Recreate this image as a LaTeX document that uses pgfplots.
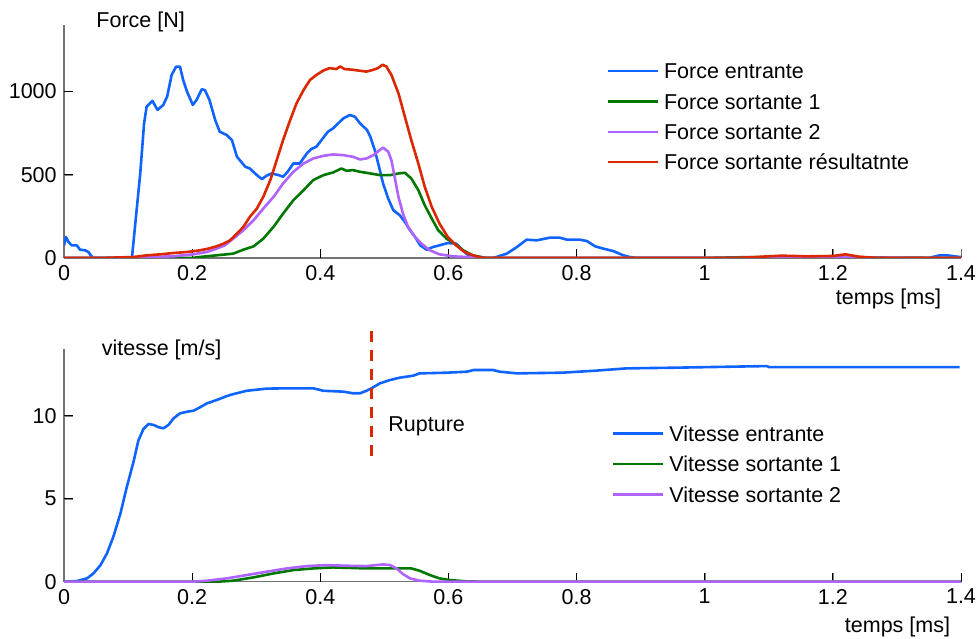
\documentclass[border=0pt]{standalone}
\usepackage{fontspec}
\setmainfont{Liberation Sans}
\usepackage{pgfplots}
\pgfplotsset{compat=1.18}
\definecolor{cblue}{RGB}{15,100,255}
\definecolor{cgreen}{RGB}{0,120,0}
\definecolor{cpurple}{RGB}{175,100,255}
\definecolor{cred}{RGB}{220,40,0}
\pgfplotsset{
 mystyle/.style={
  scale only axis, width=897pt,
  xmin=0, xmax=1.4,
  axis x line*=bottom, axis y line*=left,
  axis line style={black!55, line width=1.3pt, -},
  tick align=inside, major tick length=9pt,
  xtick={0,0.2,0.4,0.6,0.8,1,1.2,1.4},
  scaled ticks=false,
  /pgf/number format/assume math mode=true,
  /pgf/number format/1000 sep={},
  tick label style={font=\fontsize{21.5}{25}\selectfont},
  every axis plot/.append style={line width=2.6pt, line join=round},
  legend image code/.code={\draw[##1, line width=2.4pt] (0pt,0pt) -- (50pt,0pt);},
  legend cell align=left,
  legend style={draw=none, fill=none, anchor=north west,
    font=\fontsize{21.5}{25}\selectfont, inner sep=0pt, outer sep=0pt,
    row sep=0pt, column sep=5pt,
    nodes={inner sep=0pt, text height=22.9pt, text depth=7.5pt}},
 }
}
\begin{document}
\fontsize{21.5}{25}\selectfont
\begin{tikzpicture}
\path[use as bounding box] (0pt,0pt) rectangle (978pt,639pt);
% ---------------- Force ----------------
\begin{axis}[mystyle, at={(64pt,381pt)}, anchor=south west, height=233pt,
  ymin=0, ymax=1400, ytick={0,500,1000},
  ylabel={Force [N]}, ylabel style={rotate=-90, at={(rel axis cs:0.036,0.991)}, anchor=base west, inner sep=0pt},
  xlabel={temps [ms]}, xlabel style={at={(rel axis cs:0.978,-0.2)}, anchor=base east, inner sep=0pt},
  legend style={at={(rel axis cs:0.605,0.868)}},
]
\addplot[black, line width=1pt, ycomb, forget plot] coordinates {(0.2,54)(0.4,54)(0.6,54)(0.8,54)(1,54)(1.2,54)(1.4,54)};
\addplot[black, line width=1pt, xcomb, forget plot] coordinates {(0.014,500)(0.014,1000)};
\addplot[cblue] coordinates {
(0,76)(0.003,126)(0.007,96)(0.012,76)(0.02,76)(0.025,50)(0.033,46)(0.038,36)(0.045,0)
(0.106,0)(0.119,508)(0.125,809)(0.129,910)(0.138,944)(0.146,890)(0.155,920)(0.161,970)
(0.168,1100)(0.175,1150)(0.181,1150)(0.186,1070)(0.192,1000)(0.201,920)(0.207,950)
(0.215,1014)(0.220,1008)(0.227,950)(0.236,829)(0.243,759)(0.254,739)(0.262,709)
(0.270,608)(0.283,548)(0.290,538)(0.301,498)(0.309,474)(0.316,494)(0.324,508)
(0.335,498)(0.342,488)(0.349,518)(0.358,568)(0.368,568)(0.379,628)(0.386,655)
(0.394,669)(0.402,709)(0.412,759)(0.420,779)(0.428,809)(0.436,839)(0.446,859)
(0.454,849)(0.462,809)(0.473,769)(0.478,729)(0.485,649)(0.493,528)(0.498,448)
(0.506,357)(0.514,287)(0.524,257)(0.532,217)(0.540,167)(0.548,126)(0.556,76)
(0.566,50)(0.576,66)(0.586,76)(0.599,90)(0.612,86)(0.620,56)(0.628,26)(0.638,0)
(0.670,0)(0.691,26)(0.707,66)(0.722,110)(0.738,106)(0.758,122)(0.774,122)(0.785,110)
(0.805,110)(0.816,102)(0.829,70)(0.842,56)(0.857,42)(0.873,16)(0.883,6)(0.894,0)
(1.349,0)(1.367,16)(1.378,16)(1.398,6)(1.4,6)};
\addlegendentry{Force entrante}
\addplot[cgreen] coordinates {
(0,0)(0.2,0)(0.212,6)(0.238,16)(0.264,26)(0.280,50)(0.296,70)(0.311,116)(0.327,187)
(0.342,267)(0.358,347)(0.374,408)(0.389,468)(0.405,498)(0.420,514)(0.433,538)
(0.441,524)(0.451,528)(0.462,518)(0.478,508)(0.493,498)(0.509,498)(0.522,508)
(0.532,512)(0.542,478)(0.553,408)(0.563,317)(0.574,237)(0.584,167)(0.597,116)
(0.610,86)(0.623,46)(0.638,16)(0.659,0)(1.0,0)(1.05,4)(1.1,6)(1.15,4)(1.2,8)(1.25,4)(1.3,2)(1.4,0)};
\addlegendentry{Force sortante 1}
\addplot[cpurple] coordinates {
(0,0)(0.11,0)(0.129,6)(0.171,10)(0.202,22)(0.223,36)(0.238,56)(0.251,76)(0.264,116)
(0.280,167)(0.296,227)(0.311,297)(0.327,367)(0.342,448)(0.358,518)(0.374,568)
(0.389,598)(0.405,614)(0.420,622)(0.436,618)(0.451,608)(0.462,592)(0.472,598)
(0.483,618)(0.493,649)(0.498,663)(0.506,639)(0.511,588)(0.516,488)(0.522,367)
(0.529,267)(0.537,187)(0.548,126)(0.558,86)(0.571,46)(0.586,22)(0.607,10)(0.628,6)
(0.649,0)(1.05,0)(1.1,4)(1.15,6)(1.2,4)(1.25,2)(1.4,0)};
\addlegendentry{Force sortante 2}
\addplot[cred] coordinates {
(0,0)(0.057,0)(0.109,6)(0.129,16)(0.150,22)(0.171,30)(0.192,36)(0.212,46)(0.225,56)
(0.238,70)(0.249,86)(0.259,106)(0.270,147)(0.280,187)(0.290,247)(0.301,297)
(0.311,367)(0.322,468)(0.332,588)(0.342,709)(0.353,829)(0.363,930)(0.374,1010)
(0.384,1070)(0.394,1100)(0.405,1127)(0.415,1141)(0.425,1135)(0.431,1151)(0.438,1135)
(0.451,1131)(0.462,1125)(0.472,1120)(0.483,1131)(0.490,1141)(0.497,1161)(0.503,1151)
(0.511,1100)(0.522,990)(0.532,849)(0.542,709)(0.553,568)(0.563,428)(0.574,307)
(0.586,207)(0.599,126)(0.612,76)(0.625,36)(0.638,16)(0.654,0)(1.05,0)(1.08,6)(1.12,14)
(1.16,10)(1.2,12)(1.22,22)(1.24,8)(1.27,0)(1.4,0)};
\addlegendentry{Force sortante résultatnte}
\end{axis}
% ---------------- Vitesse ----------------
\begin{axis}[mystyle, at={(64pt,57.3pt)}, anchor=south west, height=232.4pt,
  ymin=0, ymax=14, ytick={0,5,10}, clip=false,
  ylabel={vitesse [m/s]}, ylabel style={rotate=-90, at={(rel axis cs:0.042,0.974)}, anchor=base west, inner sep=0pt},
  xlabel={temps [ms]}, xlabel style={at={(rel axis cs:0.988,-0.22)}, anchor=base east, inner sep=0pt},
  legend style={at={(rel axis cs:0.611,0.703)}},
]
\addplot[black, line width=1pt, ycomb, forget plot] coordinates {(0.2,0.54)(0.4,0.54)(0.6,0.54)(0.8,0.54)(1,0.54)(1.2,0.54)(1.4,0.54)};
\addplot[black, line width=1pt, xcomb, forget plot] coordinates {(0.014,5)(0.014,10)};
\addplot[cblue] coordinates {
(0,0)(0.020,0.04)(0.036,0.2)(0.046,0.5)(0.057,1.0)(0.067,1.7)(0.077,2.7)(0.088,4.1)
(0.098,5.7)(0.109,7.3)(0.116,8.5)(0.124,9.2)(0.132,9.5)(0.140,9.44)(0.148,9.3)
(0.155,9.24)(0.163,9.44)(0.171,9.84)(0.181,10.14)(0.192,10.24)(0.202,10.3)(0.212,10.5)
(0.223,10.74)(0.238,10.94)(0.254,11.18)(0.264,11.3)(0.285,11.5)(0.316,11.63)
(0.348,11.65)(0.389,11.65)(0.405,11.5)(0.436,11.45)(0.451,11.35)(0.462,11.35)
(0.472,11.5)(0.480,11.65)(0.493,11.95)(0.509,12.15)(0.524,12.29)(0.545,12.41)
(0.555,12.55)(0.597,12.59)(0.629,12.65)(0.639,12.75)(0.670,12.75)(0.680,12.65)
(0.707,12.55)(0.777,12.59)(0.829,12.71)(0.878,12.85)(0.951,12.89)(1.097,12.99)
(1.10,12.93)(1.398,12.93)};
\addlegendentry{Vitesse entrante}
\addplot[cgreen] coordinates {
(0,0)(0.24,0)(0.264,0.06)(0.296,0.26)(0.327,0.5)(0.358,0.7)(0.389,0.8)(0.420,0.86)
(0.472,0.8)(0.524,0.8)(0.542,0.8)(0.555,0.66)(0.571,0.4)(0.586,0.2)(0.602,0.1)
(0.628,0.02)(0.654,0)(1.4,0)};
\addlegendentry{Vitesse sortante 1}
\addplot[cpurple] coordinates {
(0,0)(0.2,0)(0.223,0.06)(0.254,0.2)(0.285,0.4)(0.316,0.6)(0.348,0.8)(0.379,0.94)
(0.410,1.0)(0.441,0.96)(0.472,0.94)(0.498,1.04)(0.509,1.0)(0.519,0.8)(0.529,0.46)
(0.540,0.2)(0.555,0.06)(0.576,0)(1.4,0)};
\addlegendentry{Vitesse sortante 2}
\addplot[cred, line width=3pt, dash pattern=on 11pt off 8pt, forget plot] coordinates {(0.48,15.1)(0.48,7.4)};
\node[anchor=base west, inner sep=0pt] at (axis cs:0.506,9.04) {Rupture};
\end{axis}
\end{tikzpicture}
\end{document}
